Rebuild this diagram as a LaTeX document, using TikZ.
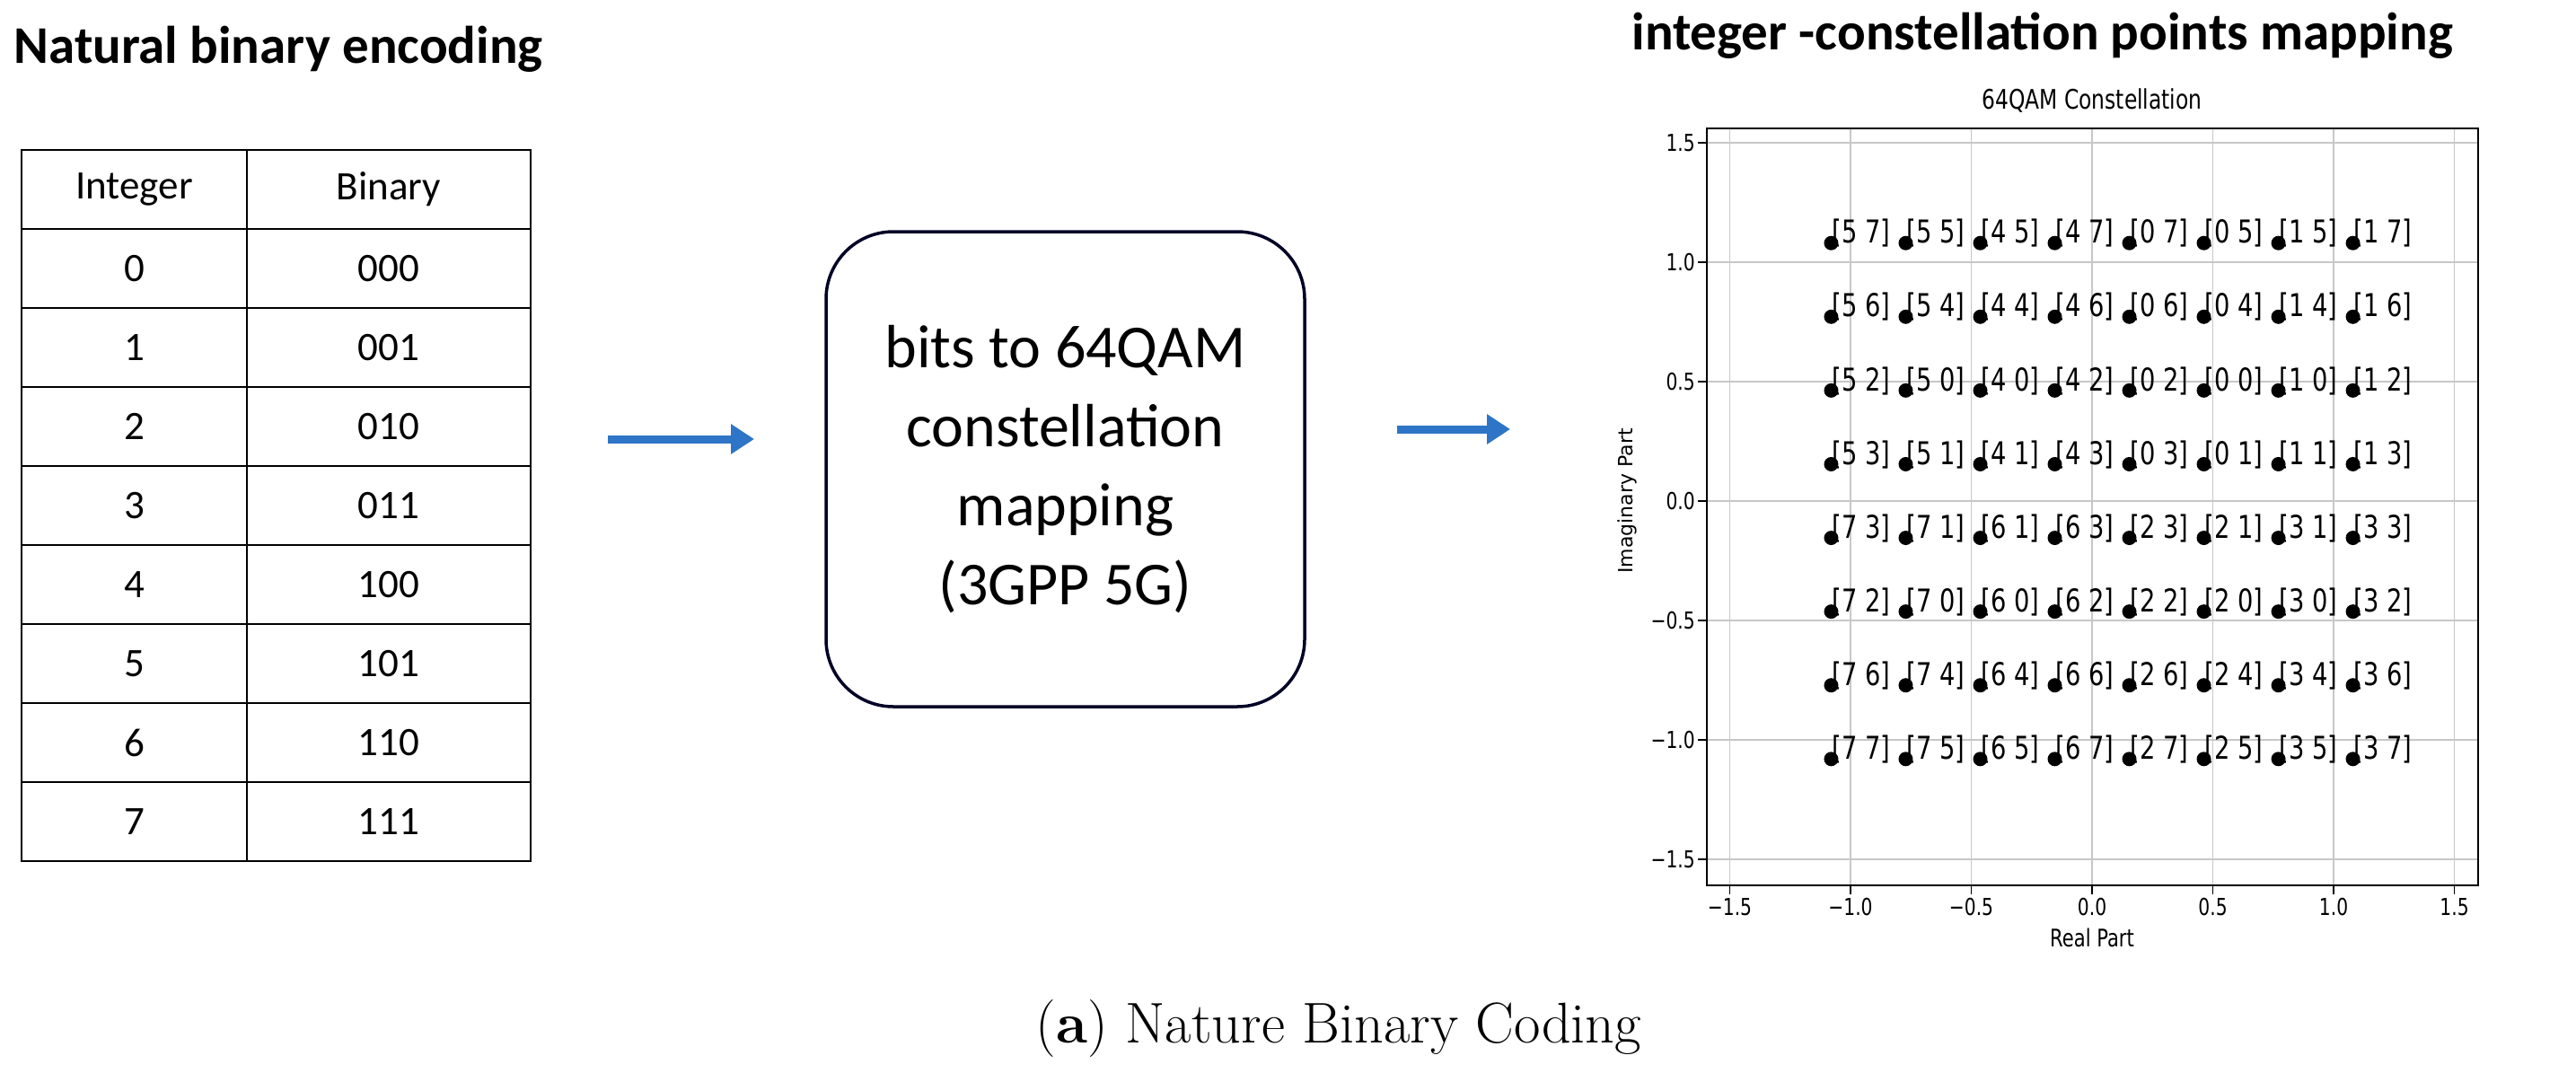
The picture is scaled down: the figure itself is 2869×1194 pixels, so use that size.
\documentclass[tikz,border=0pt]{standalone}
\usepackage{fontspec}
\usepackage{graphicx}
\newfontfamily\tabfont{Carlito}
\newfontfamily\plotfont{DejaVu Sans}
\usetikzlibrary{arrows.meta}
\definecolor{arrowblue}{RGB}{46,117,199}
\newcommand{\cond}[1]{\scalebox{0.78}[1]{#1}}
\tikzset{
  cell/.style={font=\tabfont\fontsize{45}{50}\selectfont, anchor=center},
  headtitle/.style={font=\tabfont\bfseries\fontsize{59}{66}\selectfont},
  flowarrow/.style={arrowblue, line width=9pt, -{Triangle[length=26pt,width=32pt]}},
  ptlabel/.style={font=\plotfont\fontsize{35}{38}\selectfont, anchor=south west, inner sep=0pt},
  ticklab/.style={font=\plotfont\fontsize{26}{28}\selectfont, inner sep=2pt},
  gridline/.style={draw=black!22, line width=1.6pt},
}
\begin{document}
\begin{tikzpicture}[x=1pt,y=-1pt]
\useasboundingbox (0,0) rectangle (2869,1194);
% left title
\node[headtitle, anchor=west] (ltitle) at (12,55) {Natural binary encoding};
% table
\def\tl{24}\def\tm{275}\def\tr{591}\def\tt{167}\def\rh{88}
\draw[line width=2.5pt] (\tl,\tt) rectangle (\tr,\tt+9*\rh);
\draw[line width=2.5pt] (\tm,\tt) -- (\tm,\tt+9*\rh);
\foreach \i in {1,...,8} \draw[line width=2.5pt] (\tl,\tt+\i*\rh) -- (\tr,\tt+\i*\rh);
\node[cell] (hint) at ({(\tl+\tm)/2},\tt+0.5*\rh) {Integer};
\node[cell] (hbin) at ({(\tm+\tr)/2},\tt+0.5*\rh) {Binary};
\foreach \n/\b [count=\k] in {0/000,1/001,2/010,3/011,4/100,5/101,6/110,7/111}{
  \node[cell] (int\n) at ({(\tl+\tm)/2},\tt+\k*\rh+0.5*\rh) {\n};
  \node[cell] (bin\n) at ({(\tm+\tr)/2},\tt+\k*\rh+0.5*\rh) {\b};
}
% arrow 1
\coordinate (a1s) at (677,489);
\coordinate (a1e) at (840,489);
\draw[flowarrow] (a1s) -- (a1e);
% rounded box
\node[draw=black!85!blue, line width=3.5pt, rounded corners=75pt, minimum width=533pt, minimum height=529pt,
  align=center, font=\tabfont\fontsize{68}{88}\selectfont] (mapbox) at (1186.5,522.5)
  {bits to 64QAM\\constellation\\mapping\\(3GPP 5G)};
% arrow 2
\coordinate (a2s) at (1556,478);
\coordinate (a2e) at (1682,478);
\draw[flowarrow] (a2s) -- (a2e);
% right title
\node[headtitle, anchor=west] (rtitle) at (1814,40) {integer -constellation points mapping};
% plot
\def\cx{2330}\def\cy{558}\def\ux{269}\def\uy{266}
\def\al{1901}\def\ar{2760}\def\at{143}\def\ab{986}
\node[font=\plotfont\fontsize{30}{32}\selectfont] (ptitle) at (\cx,112) {\cond{64QAM Constellation}};
\foreach \v/\t in {-1.5/−1.5,-1.0/−1.0,-0.5/−0.5,0.0/0.0,0.5/0.5,1.0/1.0,1.5/1.5}{
  \draw[gridline] ({\cx+\ux*\v},\at) -- ({\cx+\ux*\v},\ab);
  \draw[gridline] (\al,{\cy-\uy*\v}) -- (\ar,{\cy-\uy*\v});
  \draw[line width=1.5pt] ({\cx+\ux*\v},\ab) -- ({\cx+\ux*\v},\ab+10);
  \draw[line width=1.5pt] (\al,{\cy-\uy*\v}) -- (\al-10,{\cy-\uy*\v});
  \node[ticklab, anchor=north] at ({\cx+\ux*\v},\ab+12) {\cond{\t}};
  \node[ticklab, anchor=east] at (\al-11,{\cy-\uy*\v}) {\cond{\t}};
}
\draw[line width=2pt] (\al,\at) rectangle (\ar,\ab);
\node[font=\plotfont\fontsize{27}{30}\selectfont] (xlab) at (\cx,1044) {\cond{Real Part}};
\node[font=\plotfont\fontsize{22}{26}\selectfont, rotate=90] (ylab) at (1812,\cy) {Imaginary Part};
\foreach \row [count=\r] in {
  {5/7,5/5,4/5,4/7,0/7,0/5,1/5,1/7},
  {5/6,5/4,4/4,4/6,0/6,0/4,1/4,1/6},
  {5/2,5/0,4/0,4/2,0/2,0/0,1/0,1/2},
  {5/3,5/1,4/1,4/3,0/3,0/1,1/1,1/3},
  {7/3,7/1,6/1,6/3,2/3,2/1,3/1,3/3},
  {7/2,7/0,6/0,6/2,2/2,2/0,3/0,3/2},
  {7/6,7/4,6/4,6/6,2/6,2/4,3/4,3/6},
  {7/7,7/5,6/5,6/7,2/7,2/5,3/5,3/7}}{
  \foreach \la/\lb [count=\c] in \row {
    \pgfmathsetmacro{\xx}{\cx+\ux*(2*\c-9)*0.15430}
    \pgfmathsetmacro{\yy}{\cy-\uy*(9-2*\r)*0.15430}
    \fill (\xx,\yy) circle (8pt);
    \node[ptlabel] (p\la\lb) at (\xx+1,\yy+5) {\cond{[\la\space\lb]}};
  }
}
% caption
\node[font=\fontsize{64}{72}\selectfont] (caption) at (1491,1146) {(\textbf{a}) Nature Binary Coding};
\end{tikzpicture}
\end{document}
